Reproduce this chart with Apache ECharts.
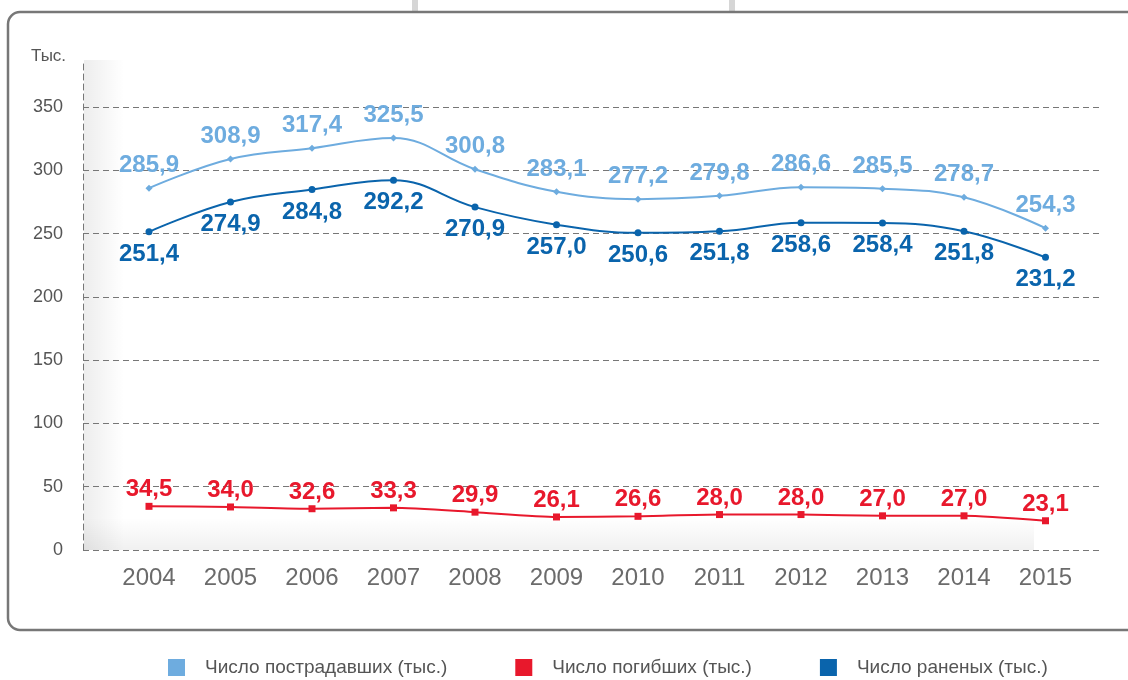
<!DOCTYPE html>
<html>
<head>
<meta charset="utf-8">
<script src="https://cdn.jsdelivr.net/npm/echarts@6/dist/echarts.min.js"></script>
<style>
  html, body { margin: 0; padding: 0; background: #fff; }
  #main { width: 1128px; height: 680px; }
</style>
</head>
<body>
<div id="main"></div>
<script>
// годы
var years = ['2004', '2005', '2006', '2007', '2008', '2009', '2010', '2011', '2012', '2013', '2014', '2015'];
// число пострадавших (тыс.)
var injuredTotal = [285.9, 308.9, 317.4, 325.5, 300.8, 283.1, 277.2, 279.8, 286.6, 285.5, 278.7, 254.3];
// число погибших (тыс.)
var killed = [34.5, 34.0, 32.6, 33.3, 29.9, 26.1, 26.6, 28.0, 28.0, 27.0, 27.0, 23.1];
// число раненых (тыс.)
var wounded = [251.4, 274.9, 284.8, 292.2, 270.9, 257.0, 250.6, 251.8, 258.6, 258.4, 251.8, 231.2];
var yTicks = [0, 50, 100, 150, 200, 250, 300, 350];

var names = ['Число пострадавших (тыс.)', 'Число погибших (тыс.)', 'Число раненых (тыс.)'];
var colors = ['#6eacdf', '#e8182c', '#0a64ac'];

var chart = echarts.init(document.getElementById('main'));

function fmt(p) {
  return p.value.toFixed(1).replace('.', ',');
}

chart.setOption({
  animation: false,
  textStyle: { fontFamily: 'Liberation Sans, Arial, sans-serif' },
  title: {
    text: 'Тыс.',
    left: 26,
    top: 43,
    textStyle: { fontSize: 17, fontWeight: 'normal', color: '#555' }
  },
  graphic: [
    // рамка
    { type: 'rect', z: -10, shape: { x: 8, y: 12, width: 1140, height: 618, r: 12 },
      style: { fill: '#fff', stroke: '#777', lineWidth: 2.5 } },
    { type: 'rect', z: -11, shape: { x: 412, y: 0, width: 6, height: 12 }, style: { fill: '#d6d6d6' } },
    { type: 'rect', z: -11, shape: { x: 729, y: 0, width: 6, height: 12 }, style: { fill: '#d6d6d6' } },
    // тень панели
    { type: 'rect', z: -5, shape: { x: 84, y: 60, width: 40, height: 490 },
      style: { fill: new echarts.graphic.LinearGradient(0, 0, 1, 0, [
        { offset: 0, color: 'rgba(0,0,0,0.07)' }, { offset: 1, color: 'rgba(0,0,0,0)' }]) } },
    { type: 'rect', z: -5, shape: { x: 84, y: 518, width: 950, height: 32 },
      style: { fill: new echarts.graphic.LinearGradient(0, 0, 0, 1, [
        { offset: 0, color: 'rgba(0,0,0,0)' }, { offset: 1, color: 'rgba(0,0,0,0.06)' }]) } }
  ],
  legend: {
    data: names,
    top: 653,
    left: 163,
    icon: 'rect',
    itemWidth: 17,
    itemHeight: 17,
    itemGap: 68,
    textStyle: { fontSize: 19, color: '#555', padding: [0, 0, 0, 15] }
  },
  grid: [
    { left: 83, right: 25, top: 60, bottom: 130 },
    { left: 83, right: 25, top: 107, bottom: 130 },
    { left: 108.25, right: 41.75, top: 107, bottom: 130 }
  ],
  xAxis: [
    { gridIndex: 0, type: 'value', show: false },
    { gridIndex: 1, type: 'value', show: false },
    {
      gridIndex: 2, type: 'category', data: years, boundaryGap: true,
      axisLine: { show: false }, axisTick: { show: false },
      axisLabel: { fontSize: 24, color: '#6b6b6b', margin: 16 }
    }
  ],
  yAxis: [
    {
      gridIndex: 0, type: 'value', min: 0, max: 1,
      axisLabel: { show: false }, axisTick: { show: false }, splitLine: { show: false },
      axisLine: { show: true, lineStyle: { color: '#777', type: [6, 4], width: 1 } }
    },
    {
      gridIndex: 1, type: 'value', min: 0, max: 350, interval: 50,
      axisLine: { show: false }, axisTick: { show: false },
      axisLabel: {
        fontSize: 18, color: '#555', margin: 20, padding: [0, 0, 11, 0],
        formatter: function (v) { return yTicks.indexOf(v) >= 0 ? String(v) : ''; }
      },
      splitLine: { show: true, lineStyle: { color: '#777', type: [6, 4], width: 1 } }
    },
    {
      gridIndex: 2, type: 'value', min: 0, max: 350, interval: 50, show: false,
      splitLine: { show: false }
    }
  ],
  series: [
    {
      name: names[0], type: 'line', xAxisIndex: 2, yAxisIndex: 2,
      data: injuredTotal, smooth: 0.4, symbol: 'diamond', symbolSize: 7,
      lineStyle: { color: colors[0], width: 2 }, itemStyle: { color: colors[0] },
      label: { show: true, position: 'top', distance: 7, formatter: fmt,
        fontSize: 24, fontWeight: 'bold', color: colors[0] }
    },
    {
      name: names[1], type: 'line', xAxisIndex: 2, yAxisIndex: 2,
      data: killed, smooth: 0.2, symbol: 'rect', symbolSize: 7,
      lineStyle: { color: colors[1], width: 2 }, itemStyle: { color: colors[1] },
      label: { show: true, position: 'top', distance: 1, formatter: fmt,
        fontSize: 24, fontWeight: 'bold', color: colors[1] }
    },
    {
      name: names[2], type: 'line', xAxisIndex: 2, yAxisIndex: 2,
      data: wounded, smooth: 0.4, symbol: 'circle', symbolSize: 7,
      lineStyle: { color: colors[2], width: 2 }, itemStyle: { color: colors[2] },
      label: { show: true, position: 'bottom', distance: 7, formatter: fmt,
        fontSize: 24, fontWeight: 'bold', color: colors[2] }
    }
  ]
});
</script>
</body>
</html>
